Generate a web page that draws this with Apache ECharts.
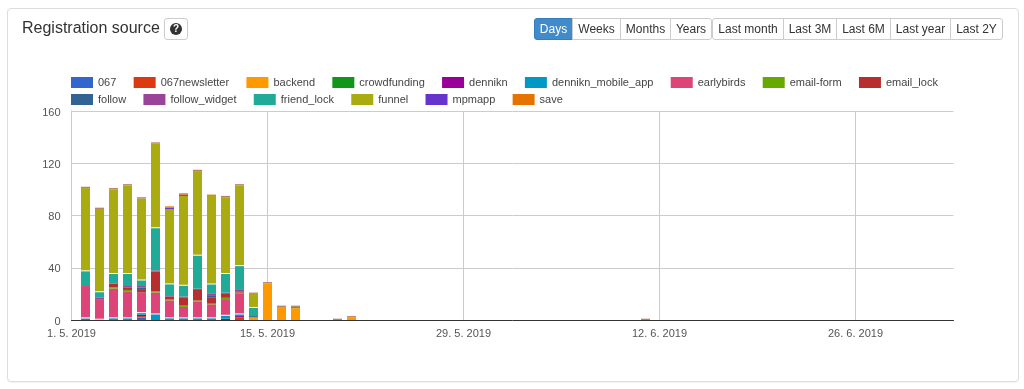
<!DOCTYPE html>
<html>
<head>
<meta charset="utf-8">
<script src="https://cdn.jsdelivr.net/npm/echarts@6/dist/echarts.min.js"></script>
<style>
  html, body { margin: 0; padding: 0; background: #fff; }
  body { width: 1024px; height: 389px; position: relative; overflow: hidden; font-family: "Liberation Sans", Arial, sans-serif; color: #333; }
  .card { position: absolute; left: 7px; top: 8px; width: 1010px; height: 372px; border: 1px solid #ddd; border-radius: 4px; box-shadow: 0 1px 1px rgba(0,0,0,.05); }
  h3 { position: absolute; left: 22px; top: 18px; margin: 0; font-size: 16px; line-height: 20px; font-weight: 400; }
  .help { position: absolute; left: 164px; top: 18px; width: 22px; height: 20px; border: 1px solid #ccc; border-radius: 3px; }
  .help i { position: absolute; left: 5px; top: 4px; width: 12px; height: 12px; border-radius: 50%; background: #333; color: #fff; font: bold 10px/12px "Liberation Sans"; text-align: center; }
  .group { position: absolute; top: 18px; height: 22px; display: flex; }
  .group span { box-sizing: border-box; height: 22px; line-height: 20px; font-size: 12px; text-align: center; border: 1px solid #ccc; margin-left: -1px; background: #fff; }
  .group span:first-child { margin-left: 0; border-radius: 3px 0 0 3px; }
  .group span:last-child { border-radius: 0 3px 3px 0; }
  .group span.on { background: #428bca; border-color: #357ebd; color: #fff; }
  #chart { position: absolute; left: 0; top: 0; width: 1024px; height: 389px; }
</style>
</head>
<body>
<div class="card"></div>
<div id="chart"></div>
<h3>Registration source</h3>
<div class="help"><i>?</i></div>
<div class="group" id="periods" style="left:534px"></div>
<div class="group" id="ranges" style="left:712px"></div>
<script>
const barDays = ['2. 5. 2019', '3. 5. 2019', '4. 5. 2019', '5. 5. 2019', '6. 5. 2019', '7. 5. 2019', '8. 5. 2019', '9. 5. 2019', '10. 5. 2019', '11. 5. 2019', '12. 5. 2019', '13. 5. 2019', '14. 5. 2019', '15. 5. 2019', '16. 5. 2019', '17. 5. 2019', '20. 5. 2019', '21. 5. 2019', '11. 6. 2019'];

const s067 = [0, 0, 0, 0, 2, 0, 0, 0, 0, 0, 0, 0, 0, 0, 0, 0, 0, 0, 0];
const s067newsletter = [1, 0, 0, 0, 1, 0, 0, 0, 0, 0, 0, 2, 0, 0, 0, 0, 0, 0, 0];
const backend = [0, 0, 0, 0, 0, 0, 0, 0, 0, 0, 0, 0, 2, 28, 10, 9, 0, 2, 0];
const crowdfunding = [0, 0, 0, 0, 0, 0, 0, 0, 0, 0, 0, 0, 0, 0, 0, 0, 0, 0, 0];
const dennikn = [0, 0, 0, 0, 1, 0, 0, 0, 0, 0, 1, 1, 0, 0, 0, 0, 0, 0, 0];
const denniknMobileApp = [1, 1, 2, 2, 2, 5, 2, 2, 2, 2, 3, 2, 0, 0, 0, 0, 0, 0, 0];
const earlybirds = [24, 15, 22, 20, 15, 16, 13, 8, 12, 10, 12, 15, 0, 0, 0, 0, 0, 0, 0];
const emailForm = [0, 0, 1, 1, 0, 1, 1, 1, 1, 1, 1, 1, 0, 0, 0, 1, 0, 0, 0];
const emailLock = [0, 0, 3, 2, 2, 15, 2, 6, 8, 4, 3, 1, 0, 0, 0, 0, 0, 0, 0];
const follow = [0, 0, 0, 0, 2, 0, 0, 0, 0, 2, 0, 0, 1, 0, 0, 0, 0, 0, 0];
const followWidget = [0, 1, 0, 1, 1, 1, 1, 1, 1, 1, 1, 1, 0, 0, 0, 0, 0, 0, 0];
const friendLock = [12, 5, 8, 10, 5, 33, 9, 9, 26, 8, 15, 19, 7, 0, 0, 0, 0, 0, 0];
const funnel = [63, 63, 64, 67, 62, 64, 57, 68, 64, 67, 58, 61, 10, 0, 0, 0, 0, 0, 0];
const mpmapp = [0, 0, 0, 0, 0, 0, 1, 1, 0, 0, 0, 0, 0, 0, 0, 0, 0, 0, 0];
const save = [1, 1, 1, 1, 1, 1, 1, 1, 1, 1, 1, 1, 1, 1, 1, 1, 1, 1, 1];

const seriesNames = ['067', '067newsletter', 'backend', 'crowdfunding', 'dennikn', 'dennikn_mobile_app', 'earlybirds', 'email-form', 'email_lock', 'follow', 'follow_widget', 'friend_lock', 'funnel', 'mpmapp', 'save'];
const seriesValues = [s067, s067newsletter, backend, crowdfunding, dennikn, denniknMobileApp, earlybirds, emailForm, emailLock, follow, followWidget, friendLock, funnel, mpmapp, save];
const colors = ['#3366cc', '#dc3912', '#ff9900', '#109618', '#990099', '#0099c6', '#dd4477', '#66aa00', '#b82e2e', '#316395', '#994499', '#22aa99', '#aaaa11', '#6633cc', '#e67300'];
const yTicks = [0, 40, 80, 120, 160];
const periods = ['Days', 'Weeks', 'Months', 'Years'];
const periodWidths = [39, 48, 50, 41];
const ranges = ['Last month', 'Last 3M', 'Last 6M', 'Last year', 'Last 2Y'];
const rangeWidths = [72, 53, 54, 60, 52];
// save caps that show their real orange, the rest look tan in the source
const orangeCaps = ['8. 5. 2019', '9. 5. 2019', '11. 5. 2019'];
// series that leave a white hairline under them
const whiteUnder = ['earlybirds', 'funnel'];

// one label per day, 1. 5. to 3. 7.
const days = [];
for (let d = new Date(2019, 4, 1); d <= new Date(2019, 6, 3); d.setDate(d.getDate() + 1)) {
  days.push(`${d.getDate()}. ${d.getMonth() + 1}. 2019`);
}

const fillButtons = (id, labels, widths) => {
  const box = document.getElementById(id);
  labels.forEach((label, i) => {
    const el = document.createElement('span');
    el.textContent = label;
    el.style.width = `${i ? widths[i] + 1 : widths[i]}px`;
    if (label === 'Days') el.className = 'on';
    box.appendChild(el);
  });
};
fillButtons('periods', periods, periodWidths);
fillButtons('ranges', ranges, rangeWidths);

const legendRow = (names, top) => ({
  data: names,
  left: 71,
  top,
  padding: 0,
  orient: 'horizontal',
  icon: 'rect',
  itemWidth: 22,
  itemHeight: 11,
  itemGap: 17.3,
  itemStyle: { borderWidth: 0, shadowBlur: 0, shadowOffsetY: 0, shadowColor: 'transparent' },
  textStyle: { fontSize: 11, color: '#444' },
  selectedMode: false,
});

const chart = echarts.init(document.getElementById('chart'));
chart.setOption({
  animation: false,
  color: colors,
  textStyle: { fontFamily: '"Liberation Sans", Arial, sans-serif' },
  legend: [legendRow(seriesNames.slice(0, 9), 77), legendRow(seriesNames.slice(9), 94)],
  grid: { left: 71.5, width: 882, top: 111, bottom: 69, containLabel: false },
  xAxis: {
    type: 'category',
    boundaryGap: false,
    data: days,
    axisLine: { lineStyle: { color: '#333', width: 1 } },
    axisTick: { show: false },
    axisLabel: { interval: 13, fontSize: 11, color: '#555', margin: 8 },
    splitLine: { show: true, interval: 13, lineStyle: { color: '#ccc', width: 1 } },
  },
  yAxis: {
    type: 'value',
    min: yTicks[0],
    max: yTicks[yTicks.length - 1],
    interval: 40,
    axisLine: { show: true, lineStyle: { color: '#ccc', width: 1 } },
    axisTick: { show: false },
    axisLabel: { fontSize: 11, color: '#555', margin: 11, formatter: '{n|{value}}', rich: { n: { fontSize: 11, color: '#555', padding: [3, 0, 0, 0] } } },
    splitLine: { lineStyle: { color: '#ccc', width: 1 } },
  },
  series: seriesNames.map((name, i) => ({
    name,
    type: 'bar',
    stack: 'total',
    barWidth: 9,
    itemStyle: whiteUnder.includes(name)
      ? { borderWidth: 0, shadowColor: '#fff', shadowBlur: 0, shadowOffsetY: 1 }
      : { borderWidth: 0 },
    data: days.map(day => {
      const idx = barDays.indexOf(day);
      const value = idx < 0 || !seriesValues[i][idx] ? null : seriesValues[i][idx];
      if (name === 'save' && value && !orangeCaps.includes(day)) {
        return { value, itemStyle: { color: '#b97f63' } };
      }
      return value;
    }),
  })),
});
</script>
</body>
</html>
